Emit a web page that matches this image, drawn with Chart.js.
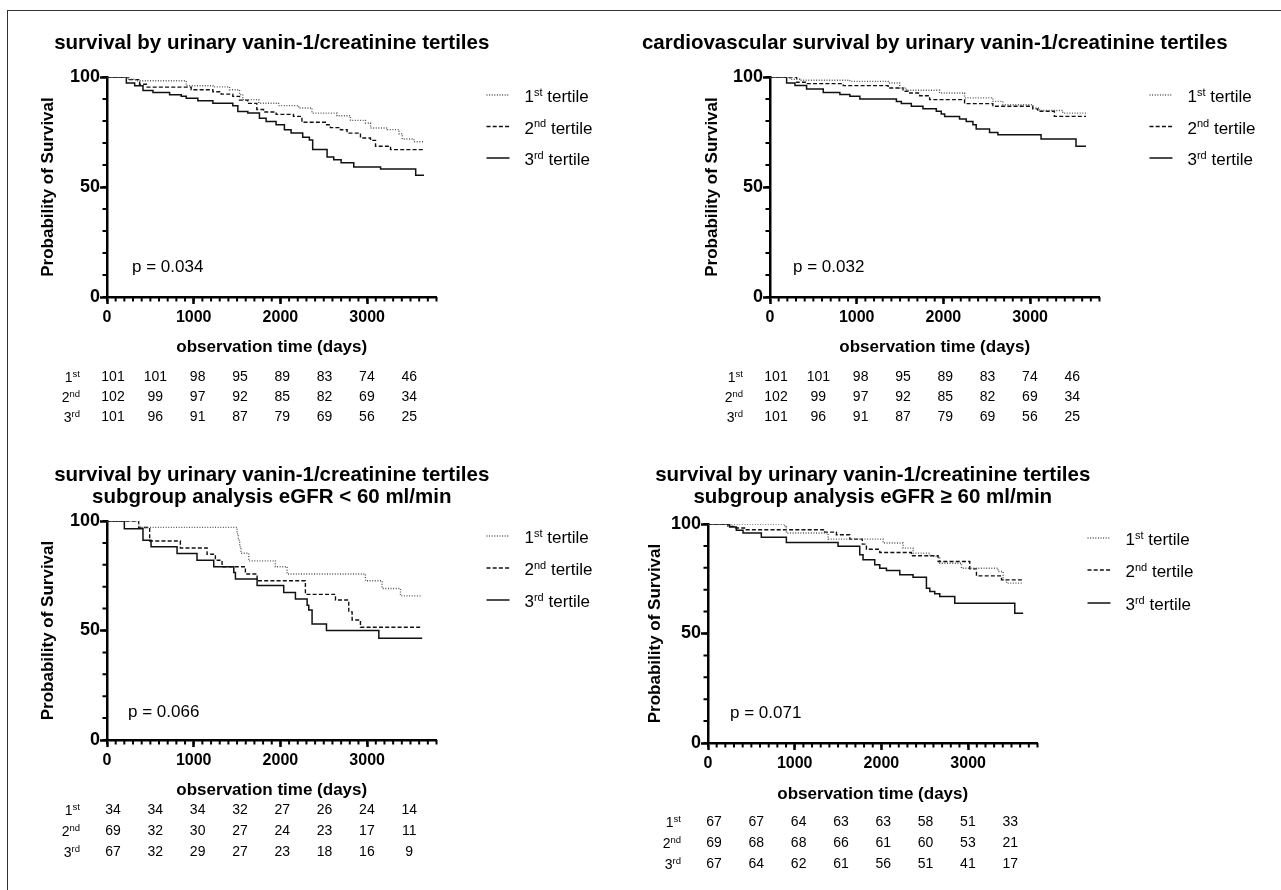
<!DOCTYPE html>
<html>
<head>
<meta charset="utf-8">
<script src="https://cdn.jsdelivr.net/npm/chart.js@4.4.1/dist/chart.umd.min.js"></script>
<style>
  html, body { margin: 0; padding: 0; background: #fff; }
  body { width: 1281px; height: 890px; position: relative; overflow: hidden; }
  #frame { position: absolute; left: 7px; top: 10px; width: 1300px; height: 900px;
           border-left: 1.5px solid #333; border-top: 1.5px solid #333; }
  canvas { position: absolute; }
</style>
</head>
<body>
<div id="frame"></div>
<canvas id="tl" width="640" height="445" style="left:0;top:0"></canvas>
<canvas id="tr" width="641" height="445" style="left:640px;top:0"></canvas>
<canvas id="bl" width="640" height="445" style="left:0;top:445px"></canvas>
<canvas id="br" width="641" height="445" style="left:640px;top:445px"></canvas>
<script>
// ---------- data ----------
const xTitle = 'observation time (days)';
const yTitle = 'Probability of Survival';
const xMajor = [0, 1000, 2000, 3000];
const yMajor = [0, 50, 100];
const tertileNum = ['1', '2', '3'];
const tertileSup = ['st', 'nd', 'rd'];
const riskDays = [0, 500, 1000, 1500, 2000, 2500, 3000, 3500];

const titleTL = ['survival by urinary vanin-1/creatinine tertiles'];
const titleTR = ['cardiovascular survival by urinary vanin-1/creatinine tertiles'];
const titleBL = ['survival by urinary vanin-1/creatinine tertiles', 'subgroup analysis eGFR < 60 ml/min'];
const titleBR = ['survival by urinary vanin-1/creatinine tertiles', 'subgroup analysis eGFR \u2265 60 ml/min'];

// top left: overall survival
const tlDays1 = [0, 230, 330, 914, 1221, 1413, 1528, 1566, 1750, 1978, 2210, 2364, 2653, 2808, 2981, 3039, 3232, 3367, 3405, 3540, 3656];
const tlSurv1 = [100, 99.0, 98.3, 96.0, 95.5, 94.2, 92.0, 89.7, 88.1, 87.0, 85.9, 83.6, 82.4, 80.3, 79.1, 76.8, 76.1, 74.2, 71.8, 70.6, 70.6];
const tlDays2 = [0, 260, 376, 453, 971, 1221, 1317, 1451, 1528, 1624, 1728, 1805, 1950, 2150, 2248, 2518, 2576, 2692, 2769, 2923, 3039, 3097, 3270, 3656];
const tlSurv2 = [100, 98.8, 96.7, 95.4, 94.2, 93.3, 92.2, 91.2, 89.5, 88.0, 85.2, 84.1, 83.0, 82.1, 79.4, 78.3, 77.0, 76.0, 74.5, 72.3, 71.2, 68.5, 67.0, 67.0];
const tlDays3 = [0, 223, 319, 415, 530, 722, 856, 914, 1048, 1221, 1451, 1509, 1624, 1758, 1835, 1950, 2046, 2123, 2257, 2334, 2372, 2538, 2615, 2700, 2846, 3155, 3560, 3656];
const tlSurv3 = [100, 97.3, 96.0, 93.9, 93.0, 91.9, 91.2, 90.3, 89.2, 88.1, 86.9, 84.3, 83.6, 81.3, 79.8, 78.3, 76.0, 74.5, 72.6, 71.4, 67.0, 63.6, 62.4, 61.0, 59.1, 58.2, 55.3, 55.3];

// top right: cardiovascular survival
const trDays1 = [0, 230, 345, 921, 1362, 1496, 1573, 1956, 2244, 2570, 2685, 3030, 3107, 3376, 3644];
const trSurv1 = [100, 99.0, 98.5, 98.0, 97.3, 95.0, 94.0, 92.7, 90.5, 88.9, 87.4, 85.9, 84.8, 83.6, 83.6];
const trDays2 = [0, 307, 422, 844, 1362, 1534, 1611, 1726, 1841, 2244, 2570, 3030, 3088, 3280, 3644];
const trSurv2 = [100, 97.6, 97.0, 96.1, 95.0, 93.5, 92.7, 91.5, 89.7, 87.9, 86.7, 85.5, 84.4, 82.1, 82.1];
const trDays3 = [0, 192, 288, 422, 614, 806, 921, 1036, 1458, 1515, 1630, 1764, 1918, 1975, 2014, 2186, 2263, 2340, 2378, 2532, 2628, 3126, 3529, 3644];
const trSurv3 = [100, 97.3, 96.1, 94.5, 93.0, 92.0, 91.2, 90.0, 88.9, 87.9, 86.7, 85.6, 84.4, 83.2, 82.1, 80.9, 79.8, 78.3, 76.4, 74.8, 73.8, 71.8, 68.5, 68.5];

// bottom left: eGFR < 60
const blDays1 = [0, 365, 1500, 1515, 1530, 1545, 1635, 1942, 2077, 2981, 3173, 3385, 3635];
const blSurv1 = [100, 97.1, 94.1, 91.2, 88.2, 85.3, 81.8, 79.1, 75.8, 72.7, 69.2, 65.8, 65.8];
const blDays2 = [0, 365, 492, 846, 1154, 1250, 1327, 1596, 1731, 2288, 2635, 2788, 2827, 2923, 3635];
const blSurv2 = [100, 97.0, 90.9, 87.7, 84.8, 82.1, 79.1, 75.8, 72.7, 66.5, 63.9, 58.5, 54.8, 51.5, 51.5];
const blDays3 = [0, 200, 415, 508, 808, 1038, 1231, 1462, 1481, 1731, 2038, 2173, 2308, 2327, 2365, 2531, 3135, 3635];
const blSurv3 = [100, 96.5, 91.2, 88.2, 85.2, 82.1, 79.1, 76.5, 73.5, 70.5, 67.4, 64.4, 61.5, 59.4, 53.0, 50.0, 46.5, 46.5];

// bottom right: eGFR >= 60
const brDays1 = [0, 885, 904, 1385, 2019, 2250, 2365, 2558, 2673, 2923, 3346, 3404, 3442, 3635];
const brSurv1 = [100, 98.6, 95.9, 93.1, 91.3, 89.0, 86.7, 85.2, 82.1, 79.8, 78.3, 74.5, 73.0, 73.0];
const brDays2 = [0, 231, 308, 442, 1346, 1481, 1635, 1780, 1827, 1981, 2346, 2654, 3019, 3096, 3385, 3635];
const brSurv2 = [100, 98.9, 98.2, 97.4, 96.3, 95.1, 93.1, 90.8, 88.5, 87.0, 85.5, 82.9, 79.5, 76.3, 74.5, 74.5];
const brDays3 = [0, 250, 327, 404, 615, 904, 1500, 1750, 1788, 1923, 1981, 2058, 2212, 2365, 2519, 2558, 2615, 2673, 2846, 3538, 3635];
const brSurv3 = [100, 98.6, 97.1, 95.9, 94.0, 91.6, 89.8, 86.0, 83.7, 81.4, 79.8, 78.8, 76.8, 75.7, 70.7, 69.2, 68.1, 66.9, 63.8, 59.2, 59.2];

// numbers at risk
const tlRisk1 = [101, 101, 98, 95, 89, 83, 74, 46];
const tlRisk2 = [102, 99, 97, 92, 85, 82, 69, 34];
const tlRisk3 = [101, 96, 91, 87, 79, 69, 56, 25];
const trRisk1 = [101, 101, 98, 95, 89, 83, 74, 46];
const trRisk2 = [102, 99, 97, 92, 85, 82, 69, 34];
const trRisk3 = [101, 96, 91, 87, 79, 69, 56, 25];
const blRisk1 = [34, 34, 34, 32, 27, 26, 24, 14];
const blRisk2 = [69, 32, 30, 27, 24, 23, 17, 11];
const blRisk3 = [67, 32, 29, 27, 23, 18, 16, 9];
const brRisk1 = [67, 67, 64, 63, 63, 58, 51, 33];
const brRisk2 = [69, 68, 68, 66, 61, 60, 53, 21];
const brRisk3 = [67, 64, 62, 61, 56, 51, 41, 17];

const pTL = 'p = 0.034';
const pTR = 'p = 0.032';
const pBL = 'p = 0.066';
const pBR = 'p = 0.071';

// ---------- look ----------
const FONT = '"Liberation Sans", Arial, Helvetica, sans-serif';
const seriesStyle = [
  { color: '#555', width: 1.4, dash: [1, 1.6] },
  { color: '#111', width: 1.4, dash: [4, 2.2] },
  { color: '#111', width: 1.5, dash: [] }
];

// layout of each panel in page pixels
const panels = [
  { id: 'tl', left: 0, top: 0, w: 640, h: 445, area: [107, 77, 436.5, 297], yTitleX: 48, xTitleY: 347,
    title: titleTL, titleY: [43], curves: [[tlDays1, tlSurv1], [tlDays2, tlSurv2], [tlDays3, tlSurv3]],
    risk: [tlRisk1, tlRisk2, tlRisk3], riskY: [80, 100, 120], legendY: [19, 50.5, 82], p: pTL, pAt: [288, 13.6] },
  { id: 'tr', left: 640, top: 0, w: 641, h: 445, area: [770, 77, 1099.5, 297], yTitleX: 712, xTitleY: 347,
    title: titleTR, titleY: [43], curves: [[trDays1, trSurv1], [trDays2, trSurv2], [trDays3, trSurv3]],
    risk: [trRisk1, trRisk2, trRisk3], riskY: [80, 100, 120], legendY: [19, 50.5, 82], p: pTR, pAt: [265, 13.6] },
  { id: 'bl', left: 0, top: 445, w: 640, h: 445, area: [107, 521, 436.5, 740], yTitleX: 48, xTitleY: 790,
    title: titleBL, titleY: [475, 497], curves: [[blDays1, blSurv1], [blDays2, blSurv2], [blDays3, blSurv3]],
    risk: [blRisk1, blRisk2, blRisk3], riskY: [70, 91, 112], legendY: [16, 48, 80], p: pBL, pAt: [242, 12.8] },
  { id: 'br', left: 640, top: 445, w: 641, h: 445, area: [708, 524, 1037.5, 743], yTitleX: 655, xTitleY: 794,
    title: titleBR, titleY: [475, 497], curves: [[brDays1, brSurv1], [brDays2, brSurv2], [brDays3, brSurv3]],
    risk: [brRisk1, brRisk2, brRisk3], riskY: [79, 100, 121], legendY: [15, 47, 80], p: pBR, pAt: [254, 13.7] }
];

// text with a superscript part, e.g. 1st
function supText(ctx, x, yMid, main, sup, rest, size, supSize, align) {
  ctx.font = size + 'px ' + FONT;
  const w1 = ctx.measureText(main).width;
  const w3 = ctx.measureText(rest).width;
  ctx.font = supSize + 'px ' + FONT;
  const w2 = ctx.measureText(sup).width;
  let x0 = align === 'right' ? x - (w1 + w2 + w3) : x;
  const base = yMid + size * 0.36;
  ctx.textAlign = 'left';
  ctx.textBaseline = 'alphabetic';
  ctx.font = size + 'px ' + FONT;
  ctx.fillText(main, x0, base);
  ctx.font = supSize + 'px ' + FONT;
  ctx.fillText(sup, x0 + w1, base - size * 0.38);
  ctx.font = size + 'px ' + FONT;
  if (rest) ctx.fillText(rest, x0 + w1 + w2, base);
}

const extras = {
  id: 'extras',
  afterDraw(chart, args, o) {
    const { ctx, chartArea: a } = chart;
    const x = chart.scales.x, y = chart.scales.y;
    ctx.save();
    // minor ticks
    ctx.strokeStyle = '#000';
    ctx.lineWidth = 2;
    ctx.beginPath();
    for (let v = 0; v <= 100; v += 10) {
      const py = y.getPixelForValue(v);
      ctx.moveTo(a.left, py);
      ctx.lineTo(a.left - 4.5, py);
    }
    for (let v = 0; v <= 3800; v += 100) {
      const px = x.getPixelForValue(v);
      ctx.moveTo(px, a.bottom);
      ctx.lineTo(px, a.bottom + 4.5);
    }
    ctx.stroke();

    ctx.fillStyle = '#000';
    // panel title
    ctx.font = 'bold 20.5px ' + FONT;
    ctx.textAlign = 'center';
    ctx.textBaseline = 'middle';
    o.title.forEach((t, i) => ctx.fillText(t, (a.left + a.right) / 2, o.titleY[i]));

    // p value
    ctx.font = '17px ' + FONT;
    ctx.textAlign = 'left';
    ctx.fillText(o.p, x.getPixelForValue(o.pAt[0]), y.getPixelForValue(o.pAt[1]));

    // legend
    o.legendY.forEach((dy, i) => {
      const ly = a.top + dy;
      const st = seriesStyle[i];
      ctx.save();
      ctx.strokeStyle = st.color;
      ctx.lineWidth = st.width;
      ctx.setLineDash(st.dash);
      ctx.beginPath();
      ctx.moveTo(a.right + 50, ly - 1);
      ctx.lineTo(a.right + 73, ly - 1);
      ctx.stroke();
      ctx.restore();
      supText(ctx, a.right + 88, ly, tertileNum[i], tertileSup[i], ' tertile', 17, 11, 'left');
    });

    // numbers at risk, columns slightly tighter than the day ticks
    o.risk.forEach((row, i) => {
      const ry = a.bottom + o.riskY[i];
      supText(ctx, a.left - 27, ry, tertileNum[i], tertileSup[i], '', 14, 9.5, 'right');
      ctx.font = '14px ' + FONT;
      ctx.textAlign = 'center';
      ctx.textBaseline = 'middle';
      row.forEach((n, j) => {
        const px = a.left + 6 + (x.getPixelForValue(riskDays[j]) - a.left) * 0.976;
        ctx.fillText(String(n), px, ry);
      });
    });
    ctx.restore();
  }
};

function makePanel(p) {
  const [aL, aT, aR, aB] = p.area;
  const half = 17 * 1.2 / 2;
  const padLeft = p.yTitleX - half - p.left;
  const yW = aL - p.left - padLeft;
  const padTop = aT - p.top;
  const padRight = p.left + p.w - aR;
  const xH = p.xTitleY + half - aB;
  const padBottom = p.top + p.h - aB - xH;

  const xTickFont = { family: FONT, size: 16, weight: 'bold' };
  const yTickFont = { family: FONT, size: 18, weight: 'bold' };
  const titleFont = { family: FONT, size: 17, weight: 'bold' };

  const datasets = p.curves.map((c, i) => ({
    label: tertileNum[i] + tertileSup[i] + ' tertile',
    data: c[0].map((d, k) => ({ x: d, y: c[1][k] })),
    borderColor: seriesStyle[i].color,
    borderWidth: seriesStyle[i].width,
    borderDash: seriesStyle[i].dash,
    stepped: 'before',
    pointRadius: 0,
    fill: false
  }));

  new Chart(document.getElementById(p.id), {
    type: 'line',
    data: { datasets: datasets },
    options: {
      responsive: false,
      animation: false,
      events: [],
      layout: { padding: { left: padLeft, top: padTop, right: padRight, bottom: padBottom } },
      plugins: {
        legend: { display: false },
        tooltip: { enabled: false },
        extras: { title: p.title, titleY: p.titleY.map(v => v - p.top), risk: p.risk, riskY: p.riskY,
                  legendY: p.legendY, p: p.p, pAt: p.pAt }
      },
      scales: {
        x: {
          type: 'linear', min: 0, max: 3800,
          afterBuildTicks: s => { s.ticks = xMajor.map(v => ({ value: v })); },
          afterFit: s => { s.height = xH; },
          ticks: { callback: v => String(v), font: xTickFont, color: '#000', padding: 4, maxRotation: 0, autoSkip: false },
          grid: { drawOnChartArea: false, tickLength: 7, tickWidth: 2.5, tickColor: '#000' },
          border: { color: '#000', width: 2.5 },
          title: { display: true, text: xTitle, font: titleFont, color: '#000', padding: 0 }
        },
        y: {
          min: 0, max: 100,
          afterBuildTicks: s => { s.ticks = yMajor.map(v => ({ value: v })); },
          afterFit: s => { s.width = yW; },
          ticks: { callback: v => String(v), font: yTickFont, color: '#000', padding: 0 },
          grid: { drawOnChartArea: false, tickLength: 7, tickWidth: 2.5, tickColor: '#000' },
          border: { color: '#000', width: 2.5 },
          title: { display: true, text: yTitle, font: titleFont, color: '#000', padding: 0 }
        }
      }
    },
    plugins: [extras]
  });
}

panels.forEach(makePanel);
</script>
</body>
</html>
